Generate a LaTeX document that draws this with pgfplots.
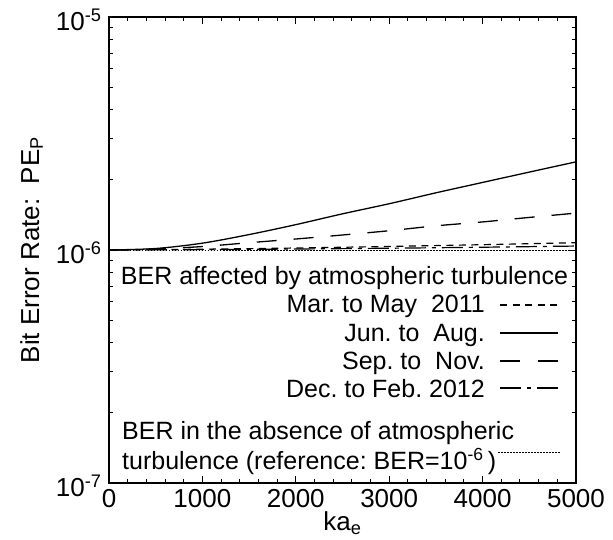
\documentclass[border=0pt]{standalone}
\usepackage{fontspec}
\setmainfont{Liberation Sans}
\usepackage{pgfplots}
\pgfplotsset{compat=1.18}
\begin{document}
\frenchspacing
\begin{tikzpicture}
\useasboundingbox (-109pt,-57pt) rectangle (504pt,483pt);
\begin{axis}[
  at={(0pt,0pt)}, anchor=south west,
  scale only axis, width=467pt, height=466pt,
  xmin=0, xmax=5000, ymode=log, ymin=1e-7, ymax=1e-5,
  xtick={0,1000,2000,3000,4000,5000},
  xticklabels={0,1000,2000,3000,4000,5000},
  minor x tick num=4,
  ytick={1e-7,1e-6,1e-5},
  yticklabels={10\textsuperscript{-7},10\textsuperscript{-6},10\textsuperscript{-5}},
  tick align=inside,
  major tick length=7pt, minor tick length=4pt,
  every tick/.style={black, line width=1pt},
  axis line style={line width=1.8pt},
  tick label style={font=\fontsize{26}{28}\selectfont},
  xticklabel style={yshift=-3pt},
  yticklabel style={xshift=-4pt, yshift=-3pt},
  label style={font=\fontsize{26}{28}\selectfont},
  xlabel={ka\textsubscript{e}},
  ylabel={Bit Error Rate:\ \ PE\textsubscript{P}},
  xlabel style={yshift=3pt},
  ylabel style={yshift=6pt},
  /pgf/number format/assume math mode=true,
]
% Mar. to May 2011
\addplot[black, line width=1.2pt, dash pattern=on 7pt off 5.5pt, smooth] coordinates {
(0,1.000e-6) (1000,1.008e-6) (2000,1.020e-6) (3000,1.036e-6) (4000,1.054e-6) (5000,1.075e-6)};
% Jun. to Aug.
\addplot[black, line width=1.3pt, smooth] coordinates {
(0,1.00e-6) (500,1.015e-6) (1000,1.07e-6) (1500,1.165e-6) (2000,1.285e-6) (2500,1.43e-6)
(3000,1.58e-6) (3500,1.76e-6) (4000,1.95e-6) (4500,2.16e-6) (5000,2.39e-6)};
% Sep. to Nov.
\addplot[black, line width=1.3pt, dash pattern=on 20pt off 17pt, smooth] coordinates {
(0,1.00e-6) (500,1.01e-6) (1000,1.035e-6) (1500,1.075e-6) (2000,1.115e-6) (2500,1.16e-6)
(3000,1.21e-6) (3500,1.27e-6) (4000,1.32e-6) (4500,1.38e-6) (5000,1.44e-6)};
% Dec. to Feb. 2012
\addplot[black, line width=1.2pt, dash pattern=on 21pt off 6pt on 4pt off 6pt, smooth] coordinates {
(0,1.000e-6) (1000,1.004e-6) (2000,1.010e-6) (3000,1.018e-6) (4000,1.028e-6) (5000,1.040e-6)};
% reference
\addplot[black, line width=1pt, dash pattern=on 1.5pt off 1.5pt] coordinates {
(0,1e-6) (5000,1e-6)};
\end{axis}
% legend
\begin{scope}[every node/.style={font=\fontsize{25}{27}\selectfont, inner sep=0pt}]
\node[anchor=base] at (235.5pt,198pt) {BER affected by atmospheric turbulence};
\node[anchor=base east] at (376pt,170pt) {Mar. to May\ \ 2011};
\node[anchor=base east] at (376pt,141.5pt) {Jun. to\ \ Aug.};
\node[anchor=base east] at (376pt,113pt) {Sep. to\ \ Nov.};
\node[anchor=base east] at (376pt,85pt) {Dec. to Feb. 2012};
\node[anchor=base west] at (13pt,43pt) {BER in the absence of atmospheric};
\node[anchor=base west] at (13pt,13pt) {turbulence (reference: BER=10\textsuperscript{-6}\,)};
\end{scope}
\draw[black, line width=1.2pt, dash pattern=on 7pt off 5.5pt] (391pt,178pt) -- (449pt,178pt);
\draw[black, line width=1.3pt] (391pt,150pt) -- (449pt,150pt);
\draw[black, line width=1.3pt, dash pattern=on 20pt off 18pt] (391pt,122pt) -- (449pt,122pt);
\draw[black, line width=1.2pt, dash pattern=on 21pt off 6pt on 4pt off 6pt] (391pt,95pt) -- (450pt,95pt);
\draw[black, line width=1pt, dash pattern=on 1.5pt off 1.5pt] (389pt,30pt) -- (451pt,30pt);
\end{tikzpicture}
\end{document}
